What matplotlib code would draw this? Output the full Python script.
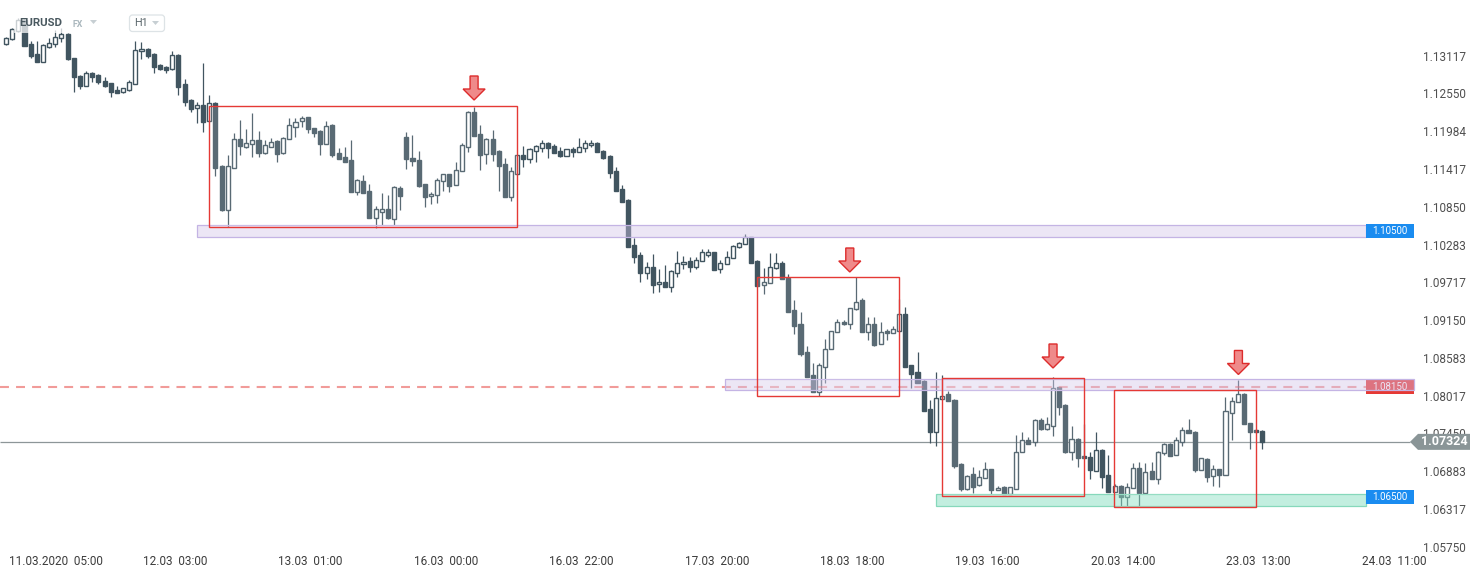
import numpy as np
import matplotlib
matplotlib.use("Agg")
import matplotlib.pyplot as plt
from matplotlib.patches import Rectangle, Polygon, FancyBboxPatch
from matplotlib.transforms import ScaledTranslation

plt.rcParams['font.family'] = ['Roboto', 'DejaVu Sans']

# ---- EURUSD H1 candles ----
opens = [
    1.13288, 1.13363, 1.13487, 1.13652, 1.13292, 1.13142, 1.13027, 1.13252, 1.13288, 1.13378,
    1.13442, 1.13077, 1.12812, 1.12667, 1.12853, 1.12827, 1.12737, 1.12703, 1.12602, 1.12577,
    1.12597, 1.12697, 1.13182, 1.13217, 1.13142, 1.12977, 1.12952, 1.12912, 1.13127, 1.12692,
    1.12452, 1.12327, 1.12377, 1.12142, 1.12407, 1.11462, 1.10802, 1.11437, 1.11867, 1.11752,
    1.11797, 1.11852, 1.11653, 1.11752, 1.11837, 1.11653, 1.11867, 1.12052, 1.12137, 1.12193,
    1.12027, 1.11987, 1.11797, 1.12077, 1.11653, 1.11597, 1.11552, 1.11077, 1.11237, 1.11087,
    1.10677, 1.10777, 1.10813, 1.10662, 1.11132, 1.11897, 1.11587, 1.11547, 1.11187, 1.11012,
    1.11022, 1.11232, 1.11337, 1.11173, 1.11382, 1.11752, 1.12272, 1.11937, 1.11637, 1.11867,
    1.11687, 1.11492, 1.11002, 1.11347, 1.11623, 1.11572, 1.11692, 1.11727, 1.11807, 1.11762,
    1.11687, 1.11617, 1.11722, 1.11677, 1.11727, 1.11772, 1.11807, 1.11687, 1.11612, 1.11387,
    1.11117, 1.10952, 1.10277, 1.10127, 1.09862, 1.09947, 1.09687, 1.09722, 1.09643, 1.09862,
    1.09987, 1.10037, 1.09952, 1.10032, 1.10132, 1.10167, 1.09912, 1.09987, 1.10087, 1.10252,
    1.10287, 1.10392, 1.10037, 1.09673, 1.09703, 1.09927, 1.10003, 1.09787, 1.09302, 1.09092,
    1.08667, 1.08322, 1.08067, 1.08452, 1.08712, 1.08967, 1.09122, 1.09087, 1.09317, 1.09452,
    1.08977, 1.09092, 1.08787, 1.08987, 1.08953, 1.08992, 1.09242, 1.08472, 1.08372, 1.08237,
    1.07817, 1.07477, 1.07962, 1.08037, 1.07952, 1.06992, 1.06613, 1.06837, 1.06672, 1.06777,
    1.06912, 1.06597, 1.06647, 1.06537, 1.06622, 1.07167, 1.07352, 1.07327, 1.07647, 1.07512,
    1.07562, 1.08142, 1.07877, 1.07177, 1.07367, 1.07112, 1.07097, 1.06892, 1.07202, 1.06827,
    1.06577, 1.06662, 1.06502, 1.06627, 1.06932, 1.06562, 1.06887, 1.06763, 1.07152, 1.07287,
    1.07123, 1.07327, 1.07502, 1.07472, 1.06902, 1.07067, 1.06812, 1.06912, 1.06827, 1.07762,
    1.07917, 1.08037, 1.07602, 1.07502, 1.07487,
]
highs = [
    1.13397, 1.13532, 1.13682, 1.13667, 1.13342, 1.13337, 1.13292, 1.13378, 1.13502, 1.13527,
    1.13457, 1.13082, 1.12827, 1.12887, 1.12877, 1.12842, 1.12802, 1.12707, 1.12662, 1.12632,
    1.12752, 1.13342, 1.13317, 1.13225, 1.13150, 1.12992, 1.12962, 1.13187, 1.13135, 1.12767,
    1.12460, 1.12427, 1.13003, 1.12527, 1.12415, 1.11477, 1.11627, 1.11962, 1.12152, 1.12017,
    1.12252, 1.11987, 1.11852, 1.11877, 1.11845, 1.11890, 1.12177, 1.12177, 1.12217, 1.12197,
    1.12032, 1.11995, 1.12137, 1.12085, 1.11732, 1.11747, 1.11852, 1.11267, 1.11327, 1.11187,
    1.10862, 1.11053, 1.11027, 1.11155, 1.11162, 1.11967, 1.11922, 1.11687, 1.11192, 1.11067,
    1.11277, 1.11342, 1.11342, 1.11517, 1.11803, 1.12287, 1.12352, 1.12077, 1.11875, 1.12002,
    1.11695, 1.11587, 1.11447, 1.11627, 1.11762, 1.11725, 1.11770, 1.11852, 1.11815, 1.11787,
    1.11742, 1.11717, 1.11747, 1.11877, 1.11852, 1.11852, 1.11815, 1.11695, 1.11620, 1.11452,
    1.11177, 1.10960, 1.10387, 1.10177, 1.10027, 1.10142, 1.09917, 1.09977, 1.09895, 1.10187,
    1.10112, 1.10093, 1.10102, 1.10217, 1.10217, 1.10172, 1.10052, 1.10192, 1.10270, 1.10327,
    1.10442, 1.10397, 1.10045, 1.09927, 1.10162, 1.10162, 1.10037, 1.09837, 1.09452, 1.09267,
    1.08762, 1.08502, 1.08502, 1.08862, 1.08987, 1.09167, 1.09152, 1.09332, 1.09790, 1.09477,
    1.09202, 1.09202, 1.09117, 1.09013, 1.09062, 1.09462, 1.09352, 1.08477, 1.08677, 1.08252,
    1.07952, 1.08367, 1.08327, 1.08087, 1.07960, 1.07000, 1.06827, 1.06947, 1.06902, 1.07027,
    1.06917, 1.06662, 1.06655, 1.06647, 1.07427, 1.07477, 1.07402, 1.07667, 1.07677, 1.07702,
    1.08292, 1.08147, 1.07885, 1.07562, 1.07387, 1.07592, 1.07177, 1.07477, 1.07210, 1.07127,
    1.06692, 1.06670, 1.06702, 1.07002, 1.07027, 1.07012, 1.07027, 1.07192, 1.07312, 1.07302,
    1.07402, 1.07542, 1.07667, 1.07480, 1.07082, 1.07075, 1.06977, 1.06917, 1.08002, 1.08002,
    1.08252, 1.08062, 1.07607, 1.07510, 1.07495,
]
lows = [
    1.13277, 1.13352, 1.13472, 1.13262, 1.13087, 1.13018, 1.13022, 1.13237, 1.13252, 1.13317,
    1.13052, 1.12577, 1.12617, 1.12662, 1.12727, 1.12692, 1.12652, 1.12502, 1.12553, 1.12553,
    1.12587, 1.12692, 1.13063, 1.13077, 1.12862, 1.12902, 1.12862, 1.12902, 1.12527, 1.12367,
    1.12277, 1.12112, 1.11967, 1.12137, 1.11317, 1.10787, 1.10552, 1.11432, 1.11627, 1.11732,
    1.11597, 1.11592, 1.11642, 1.11740, 1.11527, 1.11642, 1.11860, 1.11902, 1.12052, 1.11953,
    1.11902, 1.11623, 1.11792, 1.11592, 1.11567, 1.11522, 1.11065, 1.11027, 1.11057, 1.10675,
    1.10537, 1.10577, 1.10667, 1.10577, 1.10807, 1.11417, 1.11457, 1.11152, 1.10852, 1.10887,
    1.10912, 1.11092, 1.11077, 1.11170, 1.11380, 1.11677, 1.11905, 1.11407, 1.11492, 1.11542,
    1.11087, 1.10997, 1.10937, 1.11342, 1.11452, 1.11512, 1.11527, 1.11677, 1.11587, 1.11657,
    1.11597, 1.11612, 1.11602, 1.11672, 1.11677, 1.11752, 1.11672, 1.11563, 1.11277, 1.11087,
    1.10922, 1.10247, 1.10003, 1.09727, 1.09762, 1.09553, 1.09577, 1.09640, 1.09577, 1.09802,
    1.09912, 1.09877, 1.09912, 1.10030, 1.10102, 1.09902, 1.09852, 1.09985, 1.10082, 1.10227,
    1.10285, 1.10007, 1.09662, 1.09542, 1.09700, 1.09912, 1.09760, 1.09272, 1.08942, 1.08612,
    1.08297, 1.08065, 1.08017, 1.08202, 1.08710, 1.08965, 1.09077, 1.09017, 1.09302, 1.08972,
    1.08852, 1.08762, 1.08785, 1.08852, 1.08950, 1.08987, 1.08440, 1.08127, 1.08207, 1.07787,
    1.07302, 1.07262, 1.07960, 1.07930, 1.06937, 1.06592, 1.06602, 1.06562, 1.06662, 1.06775,
    1.06542, 1.06595, 1.06535, 1.06535, 1.06617, 1.07165, 1.07285, 1.07262, 1.07502, 1.07502,
    1.07417, 1.07727, 1.07153, 1.07052, 1.06947, 1.07075, 1.06762, 1.06887, 1.06627, 1.06572,
    1.06572, 1.06367, 1.06367, 1.06625, 1.06367, 1.06557, 1.06760, 1.06687, 1.07127, 1.07112,
    1.07120, 1.07262, 1.07450, 1.06877, 1.06895, 1.06727, 1.06667, 1.06652, 1.06820, 1.07347,
    1.07915, 1.07585, 1.07217, 1.07465, 1.07217,
]
closes = [
    1.13378, 1.13517, 1.13652, 1.13267, 1.13117, 1.13027, 1.13277, 1.13302, 1.13392, 1.13442,
    1.13063, 1.12793, 1.12667, 1.12853, 1.12802, 1.12718, 1.12662, 1.12577, 1.12557, 1.12627,
    1.12718, 1.13202, 1.13217, 1.13117, 1.12952, 1.12917, 1.12907, 1.13123, 1.12652, 1.12427,
    1.12322, 1.12377, 1.12127, 1.12403, 1.11437, 1.10802, 1.11462, 1.11867, 1.11767, 1.11803,
    1.11847, 1.11653, 1.11773, 1.11827, 1.11642, 1.11877, 1.12073, 1.12127, 1.12187, 1.12013,
    1.11962, 1.11797, 1.12067, 1.11627, 1.11572, 1.11527, 1.11072, 1.11252, 1.11062, 1.10677,
    1.10813, 1.10813, 1.10677, 1.11143, 1.11017, 1.11563, 1.11537, 1.11167, 1.11002, 1.11042,
    1.11247, 1.11337, 1.11167, 1.11397, 1.11773, 1.12272, 1.11912, 1.11627, 1.11867, 1.11642,
    1.11467, 1.11002, 1.11387, 1.11623, 1.11572, 1.11717, 1.11762, 1.11807, 1.11737, 1.11662,
    1.11612, 1.11712, 1.11677, 1.11742, 1.11807, 1.11803, 1.11677, 1.11582, 1.11362, 1.11092,
    1.10927, 1.10252, 1.10102, 1.09862, 1.09947, 1.09677, 1.09717, 1.09643, 1.09887, 1.10003,
    1.10022, 1.09952, 1.10052, 1.10167, 1.10167, 1.09907, 1.10003, 1.10102, 1.10267, 1.10302,
    1.10392, 1.10012, 1.09667, 1.09717, 1.09943, 1.10003, 1.09762, 1.09277, 1.09067, 1.08647,
    1.08302, 1.08067, 1.08472, 1.08712, 1.08982, 1.09117, 1.09087, 1.09327, 1.09427, 1.08977,
    1.09087, 1.08777, 1.08972, 1.08953, 1.09013, 1.09237, 1.08447, 1.08347, 1.08212, 1.07792,
    1.07477, 1.07977, 1.08017, 1.07937, 1.06967, 1.06613, 1.06817, 1.06652, 1.06792, 1.06912,
    1.06602, 1.06637, 1.06537, 1.06642, 1.07177, 1.07347, 1.07292, 1.07647, 1.07512, 1.07587,
    1.08127, 1.07852, 1.07177, 1.07362, 1.07087, 1.07077, 1.06902, 1.07202, 1.06802, 1.06577,
    1.06662, 1.06502, 1.06642, 1.06927, 1.06562, 1.06877, 1.06763, 1.07167, 1.07287, 1.07117,
    1.07352, 1.07502, 1.07452, 1.06902, 1.07077, 1.06802, 1.06912, 1.06827, 1.07787, 1.07932,
    1.08037, 1.07587, 1.07477, 1.07467, 1.07324,
]

# x axis (bar index) labels
x_tick_pos = [8.1, 27.4, 49.4, 71.4, 93.4, 115.4, 137.4, 159.4, 181.4, 203.4, 225.4]
x_tick_labels = ['11.03.2020  05:00', '12.03  03:00', '13.03  01:00', '16.03  00:00',
                 '16.03  22:00', '17.03  20:00', '18.03  18:00', '19.03  16:00',
                 '20.03  14:00', '23.03  13:00', '24.03  11:00']
# price axis labels
y_tick_labels = ['1.05750', '1.06317', '1.06883', '1.07450', '1.08017', '1.08583', '1.09150',
                 '1.09717', '1.10283', '1.10850', '1.11417', '1.11984', '1.12550', '1.13117']
y_ticks = [float(s) for s in y_tick_labels]

# horizontal levels / zones
last_price = 1.07324
level_top, level_mid, level_low = 1.10500, 1.08150, 1.06500
zone_top = (1.10397, 1.10577)
zone_mid = (1.08102, 1.08267)
zone_low = (1.06362, 1.06542)

# consolidation boxes (bar index from/to, price low/high)
box_start = [33.0, 122.0, 152.0, 179.9]
box_end = [83.0, 145.0, 175.1, 203.0]
box_low = [1.10544, 1.08012, 1.06517, 1.06343]
box_high = [1.12357, 1.09792, 1.08275, 1.08102]

# red arrows (bar index, price of the tip)
arrow_bar = [76.0, 137.0, 170.0, 200.1]
arrow_tip = [1.12452, 1.09872, 1.08432, 1.08335]

# ---- figure ----
W, H = 1482, 574
BAR_PX = 6.159
fig = plt.figure(figsize=(W / 100, H / 100), dpi=100)
ax = fig.add_axes([0, 26 / H, 1414 / W, 548 / H])
ax.set_xlim(-6 / BAR_PX, (1414 - 6) / BAR_PX)
ax.set_ylim(1.05732, 1.13952)


def bar_at(px):
    return (px - 6) / BAR_PX


DARK = '#415560'
o = np.array(opens)
h = np.array(highs)
l = np.array(lows)
c = np.array(closes)
x = np.arange(len(o))
up = c >= o

ax.vlines(x, l, h, color=DARK, lw=0.9, zorder=2)
ax.bar(x[up], (c - o)[up], bottom=o[up], width=0.66, facecolor='white',
       edgecolor=DARK, linewidth=1.0, zorder=3)
ax.bar(x[~up], (o - c)[~up], bottom=c[~up], width=0.66, facecolor=DARK,
       edgecolor=DARK, linewidth=1.0, zorder=3)

# current price line
ax.hlines(last_price, bar_at(0), bar_at(1410), color='#8d9698', lw=0.9, zorder=1.5)

# red dashed level
ax.hlines(level_mid, bar_at(0), bar_at(1366), color='#e53935', alpha=0.5, lw=1.5,
          linestyles=(0, (4.3, 3.4)), zorder=3.5)

ty = ax.get_yaxis_transform()
lab_x0 = 1366 / 1414
lab_w = 1 - lab_x0
lab_h = 0.0021

# right-edge labels for the zones
ax.add_patch(Rectangle((lab_x0, level_mid - 0.0011), lab_w, 0.00225, transform=ty,
                       fc='#e53935', ec='none', zorder=3.8, clip_on=False))
ax.text(lab_x0 + lab_w / 2, level_mid, '1.08150', transform=ty, ha='center', va='center',
        color='white', fontsize=7, zorder=3.9)

band_fc = (210 / 255, 196 / 255, 233 / 255, 0.42)
ax.add_patch(Rectangle((bar_at(197), zone_top[0]), bar_at(1366) - bar_at(197),
                       zone_top[1] - zone_top[0], fc=band_fc, ec='#c4b4e4', lw=0.9, zorder=4))
ax.add_patch(Rectangle((bar_at(725), zone_mid[0]), bar_at(1414) - bar_at(725),
                       zone_mid[1] - zone_mid[0], fc=band_fc, ec='#c4b4e4', lw=0.9, zorder=4,
                       clip_on=False))
ax.add_patch(Rectangle((bar_at(936), zone_low[0]), bar_at(1366) - bar_at(936),
                       zone_low[1] - zone_low[0], fc=(110 / 255, 215 / 255, 179 / 255, 0.42),
                       ec='#86d8bb', lw=0.9, zorder=4))

for lvl, txt in [(level_top, '1.10500'), (level_low, '1.06500')]:
    ax.add_patch(Rectangle((lab_x0, lvl - lab_h / 2 - 0.0001), lab_w, lab_h, transform=ty,
                           fc='#1a8cf0', ec='none', zorder=6, clip_on=False))
    ax.text(lab_x0 + lab_w / 2, lvl - 0.0001, txt, transform=ty, ha='center', va='center',
            color='white', fontsize=7, zorder=6.5)

# boxes
for x0, x1, lo, hi in zip(box_start, box_end, box_low, box_high):
    ax.add_patch(Rectangle((x0, lo), x1 - x0, hi - lo, fc=(1, 1, 1, 0.13),
                           ec='#e53935', lw=1.0, zorder=5))

# arrows
arrow_shape = np.array([(-4, 24), (4, 24), (4, 11), (11, 11), (0, 0), (-11, 11), (-4, 11)]) / 100
for xb, yp in zip(arrow_bar, arrow_tip):
    tr = fig.dpi_scale_trans + ScaledTranslation(xb, yp, ax.transData)
    ax.add_patch(Polygon(arrow_shape, closed=True, transform=tr, fc='#ef8a8a',
                         ec='#dd2c2c', lw=1.0, zorder=7, clip_on=False))

# price tag
tag = np.array([(0, 0), (8, 8), (60, 8), (60, -8), (8, -8)]) / 100
tr = fig.dpi_scale_trans + ScaledTranslation(1410 / 1414, last_price, ty)
ax.add_patch(Polygon(tag, closed=True, transform=tr, fc='#8a9597', ec='none', zorder=8,
                     clip_on=False))
ax.text(0.34, 0, '1.07324', transform=tr, ha='center', va='center', color='white',
        fontsize=9, fontweight='bold', zorder=9)

# axes styling
for s in ax.spines.values():
    s.set_visible(False)
ax.yaxis.tick_right()
ax.set_yticks(y_ticks, y_tick_labels)
ax.set_xticks(x_tick_pos, x_tick_labels)
ax.tick_params(axis='y', length=0, pad=6.3, labelsize=8.5, labelcolor='#4f4f4f')
ax.tick_params(axis='x', length=0, pad=5, labelsize=8.5, labelcolor='#3c3c3c')

# header (symbol + timeframe)
inch = fig.dpi_scale_trans


def fpx(px, py):
    return (px / 100, (H - py) / 100)


fig.add_artist(Rectangle(fpx(14, 33), 0.86, 0.25, transform=inch, fc='white', alpha=0.72,
                         ec='none'))
fig.text(19.5 / W, 1 - 23.5 / H, 'EURUSD', fontsize=8.2, fontweight='bold', color='#4a5960',
         va='center', ha='left')
fig.text(72.5 / W, 1 - 24.5 / H, 'FX', fontsize=6.3, fontweight='bold', color='#aab7bd',
         va='center', ha='left')
fig.add_artist(Polygon([fpx(90, 20), fpx(97, 20), fpx(93.5, 24)], closed=True, transform=inch,
                       fc='#c7cfd3', ec='none'))
fig.add_artist(FancyBboxPatch(fpx(129.5, 31.5), 0.35, 0.165, transform=inch,
                              boxstyle='round,pad=0,rounding_size=0.03', fc='white',
                              ec='#dde3e6', lw=0.9))
fig.text(134 / W, 1 - 23.5 / H, 'H1', fontsize=7.8, color='#5b676c', va='center', ha='left')
fig.add_artist(Polygon([fpx(152, 21), fpx(159, 21), fpx(155.5, 25)], closed=True, transform=inch,
                       fc='#c7cfd3', ec='none'))

fig.savefig('out.png', dpi=100, facecolor='white')
